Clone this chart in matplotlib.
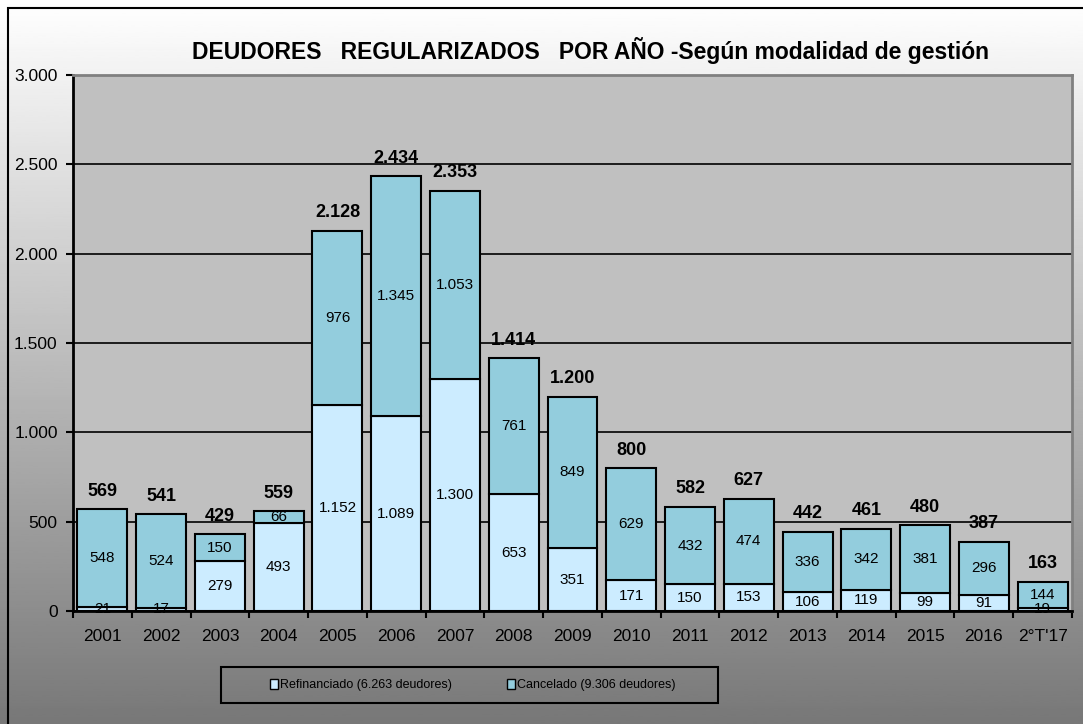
import matplotlib.pyplot as plt
from matplotlib.patches import Rectangle, Patch
from matplotlib.ticker import FuncFormatter
import numpy as np

years = ["2001", "2002", "2003", "2004", "2005", "2006", "2007", "2008", "2009",
         "2010", "2011", "2012", "2013", "2014", "2015", "2016", "2°T'17"]
refinanciado = [21, 17, 279, 493, 1152, 1089, 1300, 653, 351,
                171, 150, 153, 106, 119, 99, 91, 19]
cancelado = [548, 524, 150, 66, 976, 1345, 1053, 761, 849,
             629, 432, 474, 336, 342, 381, 296, 144]
totals = [569, 541, 429, 559, 2128, 2434, 2353, 1414, 1200,
          800, 582, 627, 442, 461, 480, 387, 163]

col_ref = "#CCECFF"
col_can = "#93CDDD"

plt.rcParams['font.family'] = ['Liberation Sans', 'DejaVu Sans']


def thousands(v, pos=None):
    return f"{int(v):,}".replace(",", ".")


W, H = 1083, 724
fig = plt.figure(figsize=(W / 100, H / 100), dpi=100)

# gradient background (white at top to gray at bottom)
bg = fig.add_axes([0, 0, 1, 1], zorder=-10)
grad = np.linspace(1.0, 0.47, 256).reshape(-1, 1)
bg.imshow(grad, aspect="auto", cmap="gray", vmin=0, vmax=1,
          extent=[0, 1, 0, 1], origin="upper")
bg.set_xlim(0, 1)
bg.set_ylim(0, 1)
bg.axis("off")
bg.add_patch(Rectangle((8 / W, -0.1), 1.2, 1 - 8 / H + 0.1, fill=False,
                       edgecolor="black", linewidth=1.5))

# plot area
left, right, top, bottom = 73, 1072, 75, 611
ax = fig.add_axes([left / W, 1 - bottom / H, (right - left) / W, (bottom - top) / H])
ax.set_facecolor("#C0C0C0")

x = np.arange(len(years))
bw = 0.85
ax.bar(x, refinanciado, bw, color=col_ref, edgecolor="black", linewidth=1.5, zorder=3)
ax.bar(x, cancelado, bw, bottom=refinanciado, color=col_can, edgecolor="black",
       linewidth=1.5, zorder=3)

for i in range(len(years)):
    r, c, t = refinanciado[i], cancelado[i], totals[i]
    ax.text(x[i], r / 2, thousands(r), ha="center", va="center", fontsize=11, zorder=5)
    ax.text(x[i], r + c / 2, thousands(c), ha="center", va="center", fontsize=11, zorder=5)
    ax.annotate(thousands(t), (x[i], t), xytext=(0, 13), textcoords="offset points",
                ha="center", va="center", fontsize=13, fontweight="bold", zorder=5)

ax.set_xlim(-0.5, len(years) - 0.5)
ax.set_ylim(0, 3000)
ax.set_yticks(np.arange(0, 3001, 500))
ax.yaxis.set_major_formatter(FuncFormatter(thousands))
ax.grid(axis="y", color="black", linewidth=1.2, zorder=1)
ax.set_axisbelow(True)

ax.set_xticks(x)
ax.set_xticklabels(years, fontsize=12.5)
ax.set_xticks(np.arange(-0.5, len(years), 1), minor=True)
ax.tick_params(axis="x", which="major", length=0, pad=13)
ax.tick_params(axis="x", which="minor", length=5, width=1.5, direction="out")
ax.tick_params(axis="y", length=5, width=1.5, labelsize=12.5, pad=6)

for s in ["left", "bottom"]:
    ax.spines[s].set_color("black")
    ax.spines[s].set_linewidth(2)
for s in ["top", "right"]:
    ax.spines[s].set_color("#808080")
    ax.spines[s].set_linewidth(2)

fig.text(590 / W, 1 - 50 / H,
         "DEUDORES   REGULARIZADOS   POR AÑO -Según modalidad de gestión",
         ha="center", va="center", fontsize=16.5, fontweight="bold")

# legend
lx0, lx1, ly0, ly1 = 221, 718, 667, 703
bg.add_patch(Rectangle((lx0 / W, 1 - ly1 / H), (lx1 - lx0) / W, (ly1 - ly0) / H,
                       fill=False, edgecolor="black", linewidth=1.5))
handles = [Patch(facecolor=col_ref, edgecolor="black", label="Refinanciado (6.263 deudores)"),
           Patch(facecolor=col_can, edgecolor="black", label="Cancelado (9.306 deudores)")]
fig.legend(handles=handles, loc="center", bbox_to_anchor=(473 / W, 1 - (ly0 + ly1) / 2 / H),
           ncol=2, frameon=False, prop={"size": 9},
           handlelength=0.6, handleheight=0.9, handletextpad=0.2, columnspacing=4.4)

fig.savefig("out.png", dpi=100)
